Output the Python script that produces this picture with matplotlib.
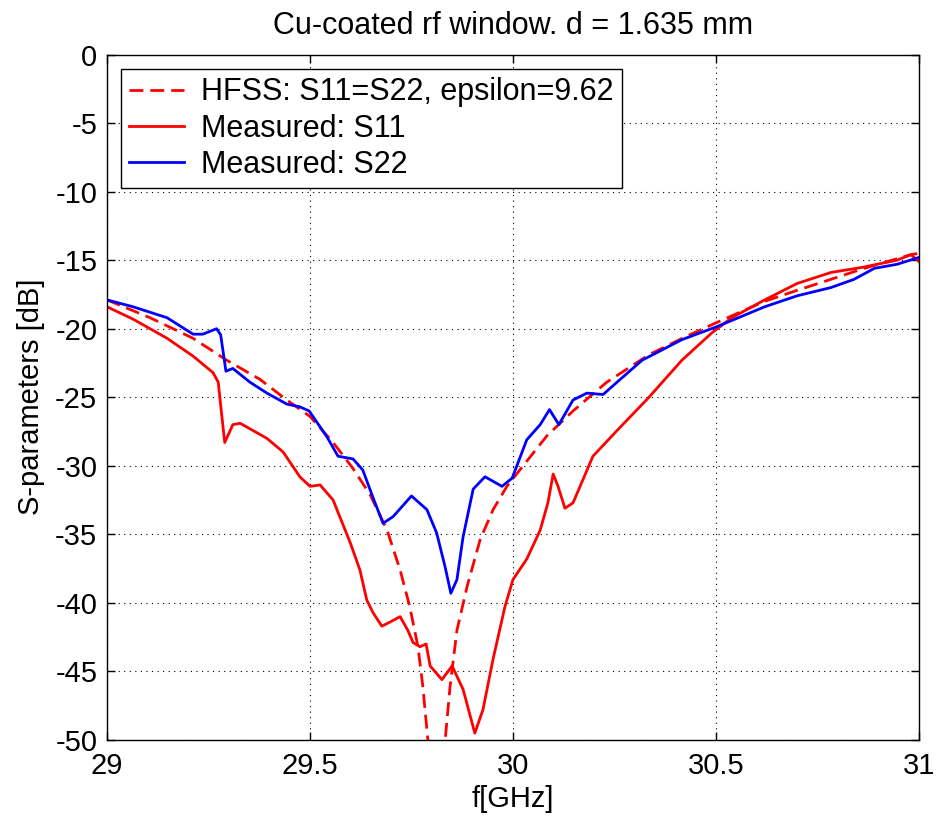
import matplotlib
matplotlib.use("Agg")
import matplotlib.pyplot as plt

plt.rcParams["font.family"] = ["Liberation Sans", "DejaVu Sans"]
plt.rcParams["axes.unicode_minus"] = False

# HFSS simulation, S11 = S22
f_hfss = [29.0, 29.106, 29.212, 29.295, 29.377, 29.443, 29.5, 29.557, 29.606,
          29.648, 29.69, 29.722, 29.746, 29.766, 29.778, 29.79, 29.81, 29.833,
          29.845, 29.862, 29.887, 29.919, 29.951, 29.985, 30.017, 30.084,
          30.148, 30.231, 30.335, 30.424, 30.498, 30.62, 30.70, 30.783,
          30.865, 30.98, 31.0]
s_hfss = [-17.9, -19.2, -20.7, -22.3, -23.7, -25.2, -26.4, -28.3, -30.2,
          -32.1, -34.7, -37.6, -40.3, -43.2, -46.1, -49.9, -55.0, -50.0,
          -46.1, -42.0, -38.8, -35.4, -33.2, -31.5, -30.3, -27.8,
          -26.0, -23.9, -21.9, -20.6, -19.6, -18.0, -17.2, -16.4,
          -15.6, -14.6, -14.5]

# measured S11
f_s11 = [29.0, 29.064, 29.148, 29.212, 29.261, 29.274, 29.283, 29.29, 29.31,
         29.328, 29.394, 29.434, 29.475, 29.5, 29.525, 29.557, 29.599, 29.623,
         29.64, 29.655, 29.677, 29.697, 29.722, 29.741, 29.754, 29.771, 29.786,
         29.796, 29.825, 29.85, 29.877, 29.906, 29.926, 29.951, 29.98, 30.0,
         30.034, 30.067, 30.086, 30.099, 30.111, 30.128, 30.148, 30.197,
         30.254, 30.335, 30.416, 30.49, 30.539, 30.62, 30.70, 30.783, 30.865,
         30.946, 30.98, 31.0]
s11 = [-18.4, -19.3, -20.7, -22.0, -23.2, -23.9, -26.4, -28.3, -27.0,
       -26.9, -28.0, -29.0, -30.8, -31.5, -31.4, -32.5, -35.6, -37.6,
       -39.8, -40.7, -41.7, -41.4, -41.0, -42.0, -42.9, -43.2, -43.0,
       -44.6, -45.6, -44.6, -46.3, -49.5, -47.8, -44.1, -40.3, -38.3,
       -36.8, -34.7, -32.7, -30.6, -31.5, -33.1, -32.7, -29.3,
       -27.5, -25.0, -22.3, -20.3, -19.2, -17.9, -16.7, -15.9, -15.5,
       -15.0, -14.6, -15.1]

# measured S22
f_s22 = [29.0, 29.064, 29.148, 29.212, 29.236, 29.27, 29.28, 29.293, 29.31,
         29.352, 29.394, 29.443, 29.475, 29.498, 29.542, 29.569, 29.606,
         29.63, 29.655, 29.68, 29.705, 29.75, 29.788, 29.812, 29.833, 29.847,
         29.862, 29.877, 29.902, 29.931, 29.973, 29.998, 30.034, 30.067,
         30.09, 30.113, 30.148, 30.182, 30.222, 30.264, 30.318, 30.416,
         30.498, 30.539, 30.62, 30.70, 30.783, 30.84, 30.89, 30.946, 31.0]
s22 = [-17.9, -18.4, -19.2, -20.4, -20.4, -20.0, -20.45, -23.1, -22.9,
       -23.9, -24.7, -25.5, -25.7, -26.0, -27.9, -29.3, -29.5,
       -30.3, -32.3, -34.2, -33.7, -32.2, -33.2, -34.9, -37.4, -39.3,
       -38.3, -35.2, -31.7, -30.8, -31.5, -30.9, -28.1, -27.0,
       -25.9, -27.0, -25.2, -24.7, -24.8, -23.7, -22.3, -20.8,
       -19.9, -19.4, -18.4, -17.6, -17.0, -16.4, -15.6, -15.3, -14.8]

FS = 21

fig = plt.figure(figsize=(9.36, 8.21), dpi=100)
ax = fig.add_axes([0.1143, 0.0987, 0.8675, 0.8349])

ax.plot(f_hfss, s_hfss, color="red", linestyle=(0, (5, 2.5)), linewidth=2,
        label="HFSS: S11=S22, epsilon=9.62")
ax.plot(f_s11, s11, color="red", linewidth=2, label="Measured: S11")
ax.plot(f_s22, s22, color="blue", linewidth=2, label="Measured: S22")

ax.set_xlim(29, 31)
ax.set_ylim(-50, 0)
ax.set_xticks([29, 29.5, 30, 30.5, 31])
ax.set_xticklabels(["29", "29.5", "30", "30.5", "31"])
ax.set_yticks(range(-50, 1, 5))
ax.grid(True, color="black", linestyle=(0, (1, 4)), linewidth=0.8)
ax.tick_params(direction="in", top=True, right=True, labelsize=FS,
               length=6, width=1)
ax.tick_params(axis="x", pad=9)
ax.tick_params(axis="y", pad=7)
for sp in ax.spines.values():
    sp.set_linewidth(1)

ax.set_title("Cu-coated rf window. d = 1.635 mm", fontsize=22, pad=15)
ax.set_xlabel("f[GHz]", fontsize=FS, labelpad=3)
ax.set_ylabel("S-parameters [dB]", fontsize=FS, labelpad=7)

leg = ax.legend(loc="upper left", bbox_to_anchor=(0.017, 0.979),
                borderaxespad=0, fontsize=22, fancybox=False, framealpha=1,
                edgecolor="black", handlelength=1.8, handletextpad=0.55,
                labelspacing=0.2, borderpad=0.28)
leg.get_frame().set_linewidth(1)

fig.savefig("out.png", dpi=100)
